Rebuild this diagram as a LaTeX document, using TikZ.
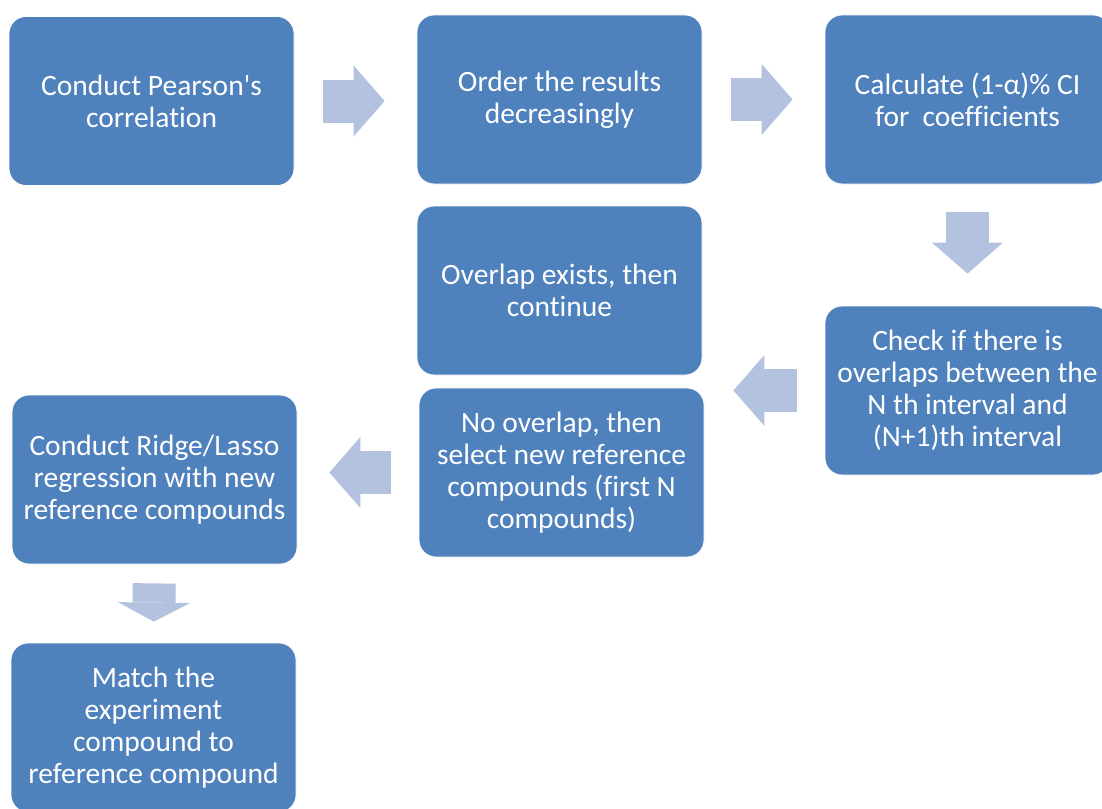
\documentclass[tikz,border=0pt]{standalone}
\usepackage{fontspec}
\setmainfont[Ligatures={NoCommon}]{Carlito}
\usetikzlibrary{arrows.meta,positioning,calc}
\definecolor{BoxBlue}{HTML}{4F81BD}
\definecolor{ArrowBlue}{HTML}{B3C2DE}

\begin{document}
\begin{tikzpicture}[
  x=1pt, y=-1pt,
  box/.style={draw=white, line width=0.8pt, fill=BoxBlue, rounded corners=17pt, align=center, minimum width=285pt, minimum height=169pt, inner sep=0pt, text=white, font=\fontsize{29.5}{32}\selectfont},
  arr/.style={draw=ArrowBlue, line width=43pt, -{Triangle[length=31pt, width=71pt, line width=0pt]}},
  shortarr/.style={arr, -{Triangle[length=19pt, width=72pt, line width=0pt]}}
]
\useasboundingbox (0,0) rectangle (1102,808);
\clip (0,0) rectangle (1102,808);
\node[box] (pearson) at (151.5,101) {Conduct Pearson\textquotesingle s\\correlation};
\node[box] (order) at (559.5,99.5) {Order the results\\decreasingly};
\node[box] (ci) at (967.5,99.5) {Calculate (1-α)\% CI\\for~ coefficients};
\node[box] (check) at (967.5,390.5) {Check if there is\\overlaps between the\\N th interval and\\(N+1)th interval};
\node[box] (overlap) at (559.5,290.5) {Overlap exists, then\\continue};
\node[box] (select) at (561.5,472.5) {No overlap, then\\select new reference\\compounds (first N\\compounds)};
\node[box] (ridge) at (154.5,479.5) {Conduct Ridge/Lasso\\regression with new\\reference compounds};
\node[box] (match) at (153.5,727.5) {Match the\\experiment\\compound to\\reference compound};
\draw[arr, shorten <=29pt, shorten >=32pt] (pearson.east) -- (pearson.east -| order.west);
\draw[arr, shorten <=29pt, shorten >=32pt] (order.east) -- (ci.west);
\draw[arr, shorten <=28pt, shorten >=32pt] (ci.south) -- (check.north);
\draw[arr, shorten <=28pt, shorten >=29pt] (check.west) -- (check.west -| select.east);
\draw[arr, shorten <=28pt, shorten >=32pt] (select.west) -- (select.west -| ridge.east);
\draw[shortarr, shorten <=19pt, shorten >=21pt] (ridge.south) -- (match.north);
\end{tikzpicture}
\end{document}
